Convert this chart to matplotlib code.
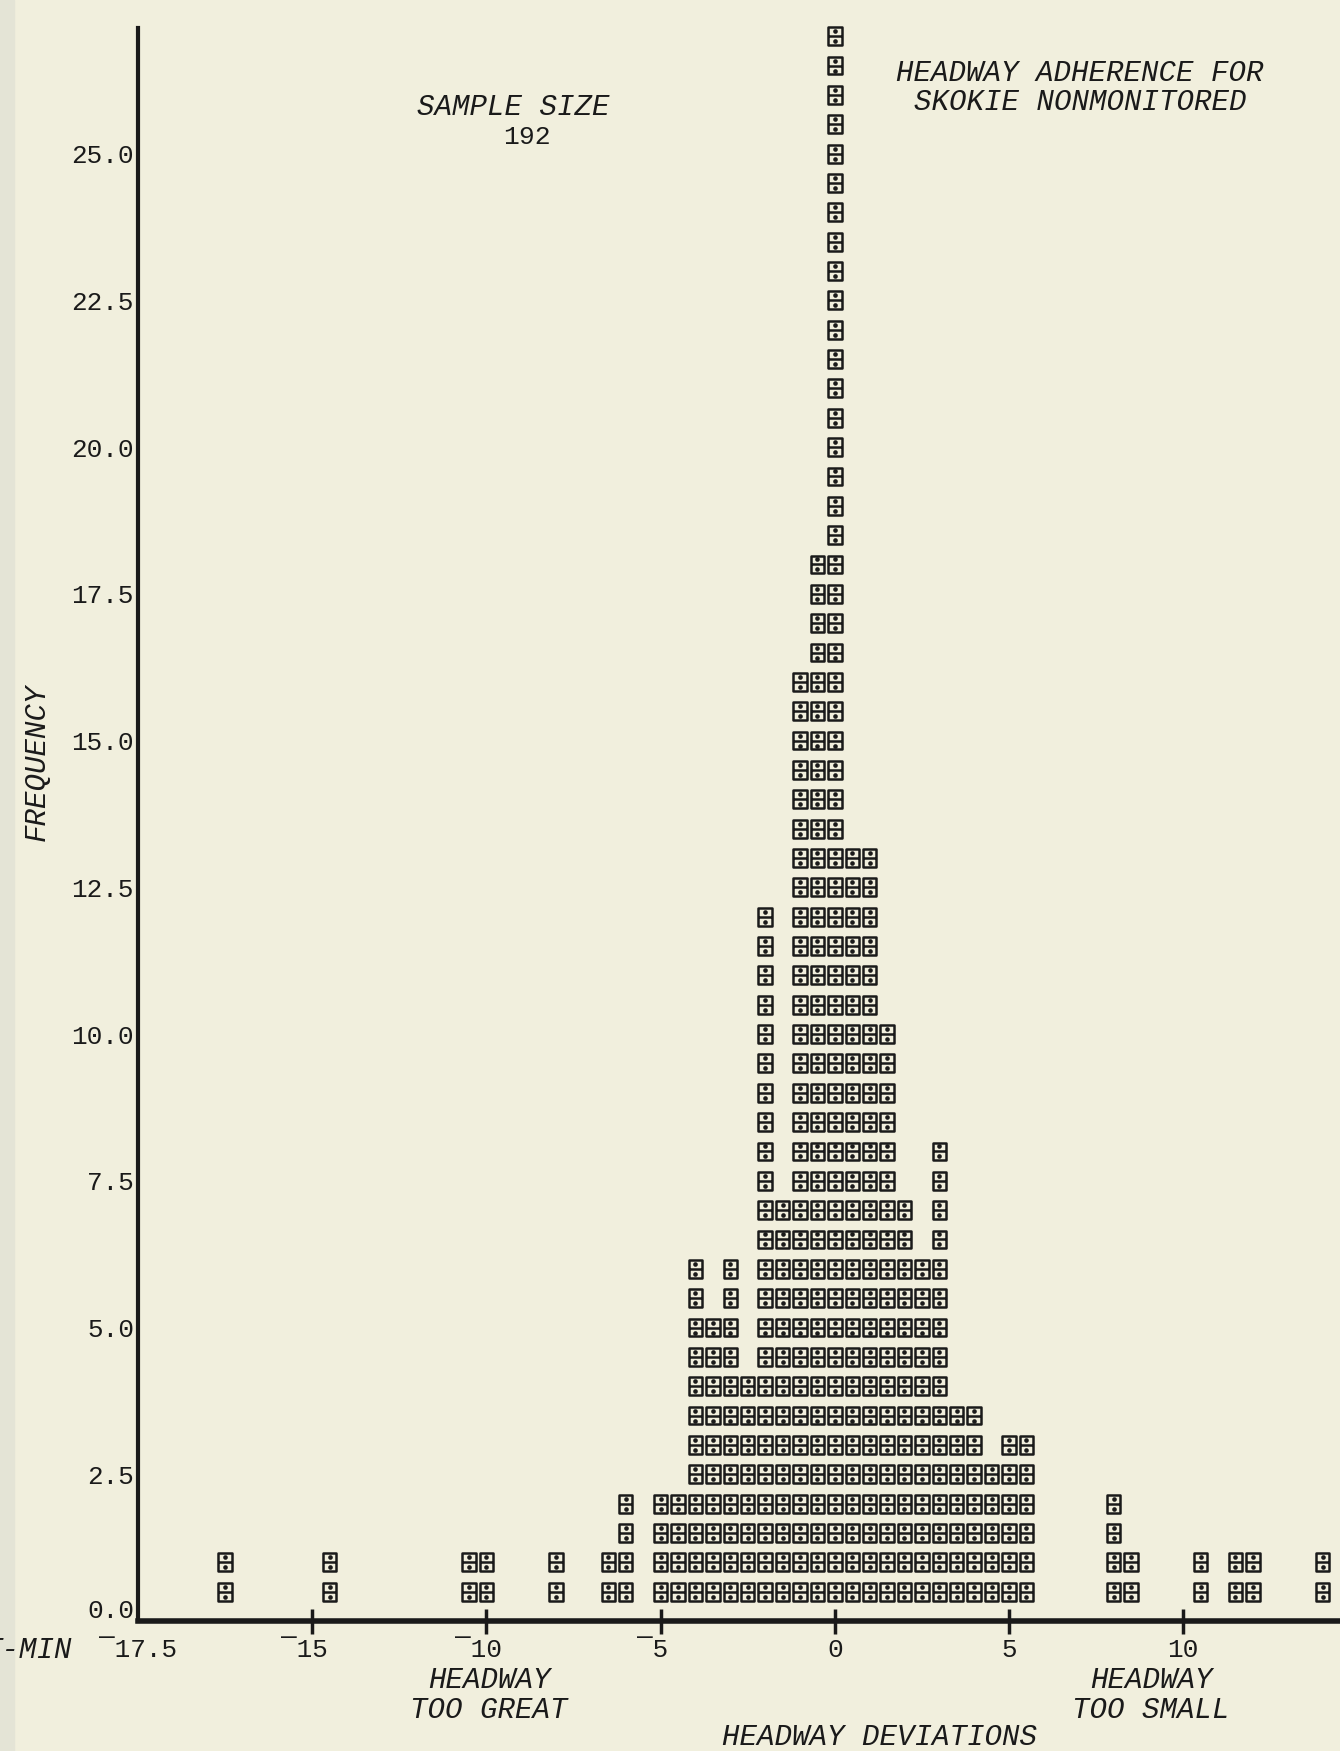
import numpy as np
import matplotlib
matplotlib.use("Agg")
import matplotlib.pyplot as plt
import matplotlib.transforms as mtransforms
from matplotlib.path import Path

# headway deviation bins (minutes) and frequencies
bins = [-17.5, -14.5, -10.5, -10.0, -8.0, -6.5, -6.0,
        -5.0, -4.5, -4.0, -3.5, -3.0, -2.5, -2.0, -1.5, -1.0, -0.5,
        0.0, 0.5, 1.0, 1.5, 2.0, 2.5, 3.0, 3.5, 4.0, 4.5, 5.0, 5.5,
        8.0, 8.5, 10.5, 11.5, 12.0, 14.0]
freq = [1, 1, 1, 1, 1, 1, 2,
        2, 2, 6, 5, 6, 4, 12, 7, 16, 18,
        27, 13, 13, 10, 7, 6, 8, 3.5, 3.5, 2.5, 3, 3,
        2, 1, 1, 1, 1, 1]

xtick_vals = [-15, -10, -5, 0, 5, 10]
xtick_text = ["\u00af15", "\u00af10", "\u00af5", "0", "5", "10"]
ytick_vals = [0, 2.5, 5, 7.5, 10, 12.5, 15, 17.5, 20, 22.5, 25]
ytick_text = ["0.0", "2.5", "5.0", "7.5", "10.0", "12.5", "15.0",
              "17.5", "20.0", "22.5", "25.0"]
x_min_label = "\u00af17.5"
sample_size = 192

BG = "#f1efdd"
INK = "#1a1a1a"
MONO = "Liberation Mono"
W, H = 1340, 1751


def px(x, y):
    return x / W, 1 - y / H


fig = plt.figure(figsize=(13.4, 17.51), dpi=100, facecolor=BG)
# faint scanner strip at the left edge
fig.patches.append(plt.Rectangle((0, 0), 14 / W, 1, transform=fig.transFigure,
                                 color="#e4e4d6", zorder=0))

ax = fig.add_axes([138 / W, (H - 1621) / H, (W - 138) / W, (1621 - 28) / H])
ax.set_facecolor("none")
ax.set_xlim(-20, 14.5)
ax.set_ylim(0, 27.14)

for s in ["top", "right"]:
    ax.spines[s].set_visible(False)
ax.spines["left"].set_linewidth(3)
ax.spines["bottom"].set_linewidth(4)
ax.spines["left"].set_color(INK)
ax.spines["bottom"].set_color(INK)
ax.spines["left"].set_capstyle("projecting")

ax.set_xticks(xtick_vals)
ax.tick_params(axis="x", direction="inout", length=18, width=2.5,
               color=INK, labelbottom=False)
ax.set_yticks(ytick_vals)
ax.set_yticklabels(ytick_text, fontfamily=MONO, fontsize=18.7, color=INK)
ax.tick_params(axis="y", length=0, pad=3)
# the 0.0 label sits just above the x axis
zero_lbl = ax.get_yticklabels()[0]
zero_lbl.set_transform(zero_lbl.get_transform() +
                       mtransforms.ScaledTranslation(0, 9 / 72, fig.dpi_scale_trans))

# x tick labels, the APL high minus hangs to the left of the digits
for v, t in zip(xtick_vals, xtick_text):
    dx = -5.6 if t.startswith("\u00af") else 0
    ax.annotate(t, xy=(v, 0), xycoords=("data", "axes fraction"),
                xytext=(dx, -21), textcoords="offset points",
                ha="center", va="center", fontfamily=MONO,
                fontsize=18.7, color=INK)
ax.annotate(x_min_label, xy=(-20, 0), xycoords=("data", "axes fraction"),
            xytext=(0, -21), textcoords="offset points", ha="center",
            va="center", fontfamily=MONO, fontsize=18.7, color=INK)

# stacked "quad divide" glyphs, one per half unit of frequency
counts = np.rint(np.array(freq) * 2).astype(int)
gx = np.repeat(bins, counts)
gy = np.concatenate([0.5 * np.arange(1, n + 1) for n in counts])

hw = 0.375
box = Path([(-hw, -0.5), (hw, -0.5), (hw, 0.5), (-hw, 0.5), (-hw, -0.5),
            (-hw, 0.0), (hw, 0.0)],
           [Path.MOVETO, Path.LINETO, Path.LINETO, Path.LINETO, Path.CLOSEPOLY,
            Path.MOVETO, Path.LINETO])
ax.scatter(gx, gy, marker=box, s=165, facecolors="none", edgecolors=INK,
           linewidths=1.8, clip_on=False, zorder=3)
dot_dy = 0.085
ax.scatter(np.concatenate([gx, gx]), np.concatenate([gy + dot_dy, gy - dot_dy]),
           marker="o", s=11, color=INK, linewidths=0, clip_on=False, zorder=4)

# annotations
it = dict(fontfamily=MONO, style="italic", fontsize=21, color=INK,
          ha="center", va="center")
fig.text(*px(1080, 73), "HEADWAY ADHERENCE FOR", **it)
fig.text(*px(1080, 102), "SKOKIE NONMONITORED", **it)
fig.text(*px(513, 107), "SAMPLE SIZE", **it)
fig.text(*px(527, 137), str(sample_size), fontfamily=MONO, fontsize=19,
         color=INK, ha="center", va="center")
fig.text(*px(37, 762), "FREQUENCY", rotation=90, **it)
fig.text(*px(489, 1680), "HEADWAY", **it)
fig.text(*px(489, 1710), "TOO GREAT", **it)
fig.text(*px(1151, 1680), "HEADWAY", **it)
fig.text(*px(1151, 1710), "TOO SMALL", **it)
fig.text(*px(880, 1737), "HEADWAY DEVIATIONS", **it)
fig.text(*px(72, 1650), "T-MIN", fontfamily=MONO, style="italic",
         fontsize=21, color=INK, ha="right", va="center")

fig.savefig("out.png", dpi=100, facecolor=BG)
